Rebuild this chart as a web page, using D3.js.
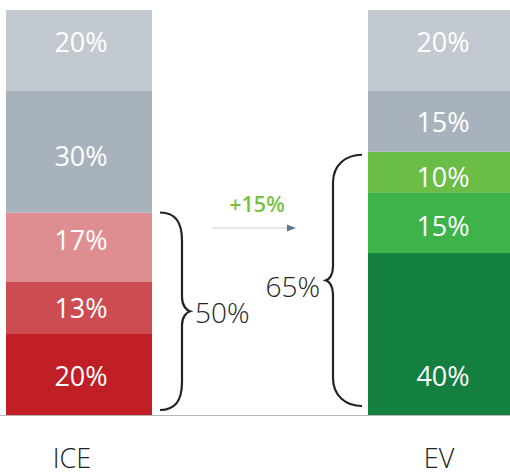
<!DOCTYPE html>
<html>
<head>
<meta charset="utf-8">
<script src="https://cdn.jsdelivr.net/npm/d3@7/dist/d3.min.js"></script>
<style>
  html, body { margin: 0; padding: 0; background: #fff; }
  svg { display: block; font-family: "Open Sans", "Noto Sans", sans-serif; }
</style>
</head>
<body>
<svg id="chart" width="510" height="476"></svg>
<script>
// Powertrain categories and their stacked shares (bottom to top), in percent
const categories = ["ICE", "EV"];
const segmentsICE = [20, 13, 17, 30, 20];
const segmentsEV = [40, 15, 10, 15, 20];
const colorsICE = ["#c01f26", "#cc4c51", "#de8e91", "#a7b2bd", "#c3c9d1"];
const colorsEV = ["#13803f", "#3db34a", "#6abd45", "#a7b2bd", "#c3c9d1"];
const groupTotals = [50, 65];   // bracketed red / green share
const deltaLabel = "+15%";

const svg = d3.select("#chart");
const W = 510, H = 476;

const y = d3.scaleLinear().domain([0, 100]).range([415, 10]);
const x = d3.scaleBand().domain(categories).range([6, 514])
  .paddingInner(0.5967).paddingOuter(0);
const bw = x.bandwidth();

const series = [
  { cat: "ICE", values: segmentsICE, colors: colorsICE },
  { cat: "EV", values: segmentsEV, colors: colorsEV }
];

// small vertical offsets applied to the in-bar labels
const labelNudge = { ICE: [2, 1, -7, 5, -8], EV: [42, 4, 5, 1, -8] };

series.forEach(s => {
  let acc = 0;
  const segs = s.values.map((v, i) => {
    const d = { v, y0: acc, y1: acc + v, color: s.colors[i], i };
    acc += v;
    return d;
  });
  const g = svg.append("g");
  g.selectAll("rect").data(segs).join("rect")
    .attr("x", x(s.cat))
    .attr("width", bw)
    .attr("y", d => y(d.y1))
    .attr("height", d => y(d.y0) - y(d.y1))
    .attr("fill", d => d.color);
  g.selectAll("text").data(segs).join("text")
    .attr("x", x(s.cat) + bw / 2 + 2)
    .attr("y", d => (y(d.y0) + y(d.y1)) / 2 + labelNudge[s.cat][d.i])
    .attr("dy", "0.36em")
    .attr("text-anchor", "middle")
    .attr("fill", "#fff")
    .attr("font-size", 27)
    .text(d => d.v + "%");
});

// baseline
svg.append("line")
  .attr("x1", 0).attr("x2", W)
  .attr("y1", y(0) + 0.5).attr("y2", y(0) + 0.5)
  .attr("stroke", "#b5b5b5").attr("stroke-width", 1);

// category labels
const catNudge = { ICE: -7, EV: -2 };
svg.selectAll("text.cat").data(categories).join("text")
  .attr("class", "cat")
  .attr("x", d => x(d) + bw / 2 + catNudge[d])
  .attr("y", 468)
  .attr("text-anchor", "middle")
  .attr("font-size", 27)
  .attr("font-weight", 300)
  .attr("fill", "#222")
  .text(d => d);

// curly brace: x0 = tips of the arms, xs = straight spine, xt = middle point
function brace(x0, xs, xt, y0, y1) {
  const ym = (y0 + y1) / 2;
  const s = Math.sign(xs - x0);
  const p = d3.path();
  p.moveTo(x0, y0);
  p.bezierCurveTo(x0 + s * 16, y0, xs, y0 + 10, xs, y0 + 28);
  p.lineTo(xs, ym - 14);
  p.bezierCurveTo(xs, ym - 5, xt - s * 3, ym - 1, xt, ym);
  p.bezierCurveTo(xt - s * 3, ym + 1, xs, ym + 5, xs, ym + 14);
  p.lineTo(xs, y1 - 28);
  p.bezierCurveTo(xs, y1 - 10, x0 + s * 16, y1, x0, y1);
  return p.toString();
}

const iceRight = x("ICE") + bw;
const evLeft = x("EV");
svg.append("path")
  .attr("d", brace(iceRight + 8, iceRight + 30, iceRight + 38, y(groupTotals[0]), y(0) - 5))
  .attr("fill", "none").attr("stroke", "#222").attr("stroke-width", 2.2);
svg.append("path")
  .attr("d", brace(evLeft - 6, evLeft - 35, evLeft - 42, y(groupTotals[1]) + 3, y(0) - 9))
  .attr("fill", "none").attr("stroke", "#222").attr("stroke-width", 2.2);

svg.append("text")
  .attr("x", iceRight + 43).attr("y", 323)
  .attr("font-size", 28).attr("font-weight", 300).attr("fill", "#262626")
  .text(groupTotals[0] + "%");
svg.append("text")
  .attr("x", evLeft - 48).attr("y", 297)
  .attr("text-anchor", "end")
  .attr("font-size", 28).attr("font-weight", 300).attr("fill", "#262626")
  .text(groupTotals[1] + "%");

// change annotation with arrow
svg.append("text")
  .attr("x", 257).attr("y", 212)
  .attr("text-anchor", "middle")
  .attr("font-size", 21.5).attr("font-weight", 600).attr("fill", "#7ac143")
  .text(deltaLabel);
svg.append("line")
  .attr("x1", 212).attr("x2", 290).attr("y1", 228).attr("y2", 228)
  .attr("stroke", "#e4e6e8").attr("stroke-width", 2);
svg.append("path")
  .attr("d", "M287,224.5 L296,228 L287,231.5 Z")
  .attr("fill", "#5f7689");
</script>
</body>
</html>
